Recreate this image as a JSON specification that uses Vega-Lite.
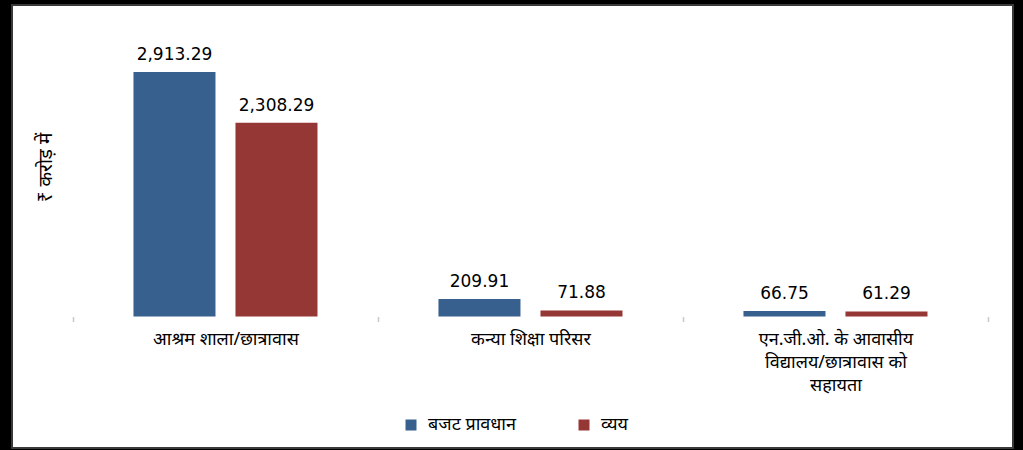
{
  "$schema": "https://vega.github.io/schema/vega-lite/v6.json",
  "autosize": {"type": "none"},
  "width": 1001,
  "height": 443,
  "padding": {"left": 12, "top": 5, "right": 10, "bottom": 2},
  "background": "#000000",
  "config": {
    "view": {"fill": "#ffffff", "stroke": "#3a3a3a", "strokeWidth": 2},
    "font": "Noto Sans"
  },
  "data": {
    "values": [
      {"category": "आश्रम शाला/छात्रावास", "series": "बजट प्रावधान", "value": 2913.29},
      {"category": "आश्रम शाला/छात्रावास", "series": "व्यय", "value": 2308.29},
      {"category": "कन्या शिक्षा परिसर", "series": "बजट प्रावधान", "value": 209.91},
      {"category": "कन्या शिक्षा परिसर", "series": "व्यय", "value": 71.88},
      {"category": "एन.जी.ओ. के आवासीय विद्यालय/छात्रावास को सहायता", "series": "बजट प्रावधान", "value": 66.75},
      {"category": "एन.जी.ओ. के आवासीय विद्यालय/छात्रावास को सहायता", "series": "व्यय", "value": 61.29}
    ]
  },
  "encoding": {
    "x": {
      "field": "category",
      "type": "nominal",
      "sort": null,
      "scale": {"paddingInner": 0, "paddingOuter": 0.141, "align": 0.709},
      "axis": {
        "orient": "bottom",
        "offset": -131.5,
        "title": null,
        "domain": false,
        "ticks": true,
        "tickBand": "extent",
        "tickColor": "#c8c8c8",
        "tickSize": 5,
        "tickWidth": 1.5,
        "labelAngle": 0,
        "labelFontSize": 18,
        "labelColor": "#000000",
        "labelPadding": 9,
        "labelLineHeight": 23,
        "labelBaseline": "top",
        "labelLimit": 400,
        "labelExpr": "datum.value == 'एन.जी.ओ. के आवासीय विद्यालय/छात्रावास को सहायता' ? ['एन.जी.ओ. के आवासीय', 'विद्यालय/छात्रावास को', 'सहायता'] : datum.label"
      }
    },
    "xOffset": {
      "field": "series",
      "type": "nominal",
      "sort": ["बजट प्रावधान", "व्यय"],
      "scale": {"paddingInner": 0.196, "paddingOuter": 0.593}
    },
    "y": {
      "field": "value",
      "type": "quantitative",
      "scale": {"domain": [-1567, 3713], "nice": false, "zero": false},
      "axis": {
        "title": "₹ करोड़ में",
        "titleFontSize": 19,
        "titleFontWeight": "normal",
        "titleColor": "#000000",
        "titleX": 33,
        "titleY": 162,
        "titleAngle": -90,
        "titleAlign": "center",
        "titleBaseline": "middle",
        "labels": false,
        "ticks": false,
        "domain": false,
        "grid": false
      }
    }
  },
  "layer": [
    {
      "mark": {"type": "bar", "stroke": null},
      "encoding": {
        "y2": {"datum": 0},
        "color": {
          "field": "series",
          "type": "nominal",
          "sort": ["बजट प्रावधान", "व्यय"],
          "scale": {"domain": ["बजट प्रावधान", "व्यय"], "range": ["#37608f", "#953735"]},
          "legend": {
            "title": null,
            "orient": "none",
            "direction": "horizontal",
            "legendX": 390,
            "legendY": 411,
            "symbolType": "square",
            "symbolSize": 121,
            "symbolStrokeWidth": 0,
            "labelFontSize": 18,
            "labelColor": "#000000",
            "labelOffset": 8,
            "columnPadding": 58
          }
        }
      }
    },
    {
      "mark": {"type": "text", "baseline": "alphabetic", "align": "center", "dy": -12, "fontSize": 17, "font": "DejaVu Sans", "color": "#000000"},
      "encoding": {
        "text": {"field": "value", "type": "quantitative", "format": ",.2f"}
      }
    }
  ]
}
